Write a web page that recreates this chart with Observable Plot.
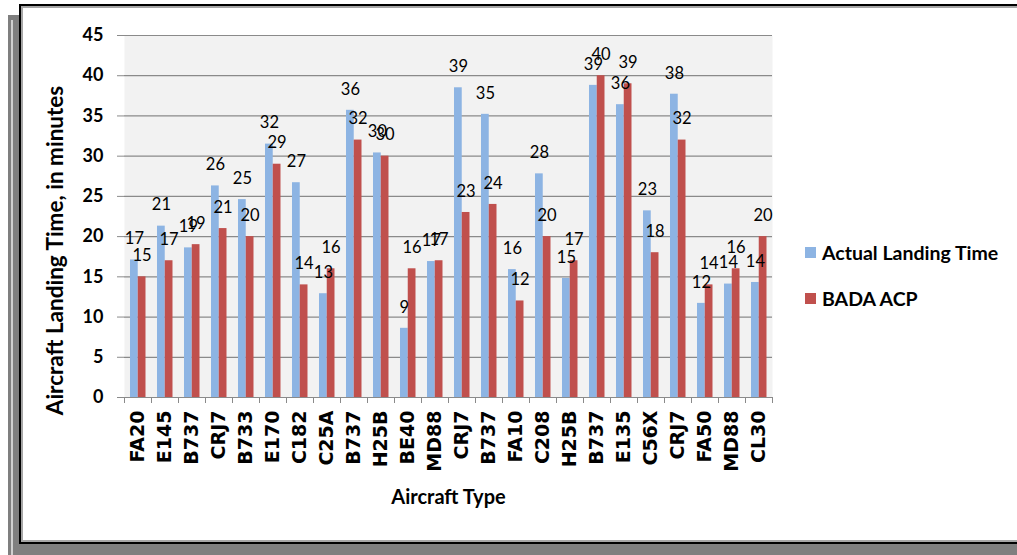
<!DOCTYPE html>
<html>
<head>
<meta charset="utf-8">
<script src="https://cdn.jsdelivr.net/npm/d3@7"></script>
<script src="https://cdn.jsdelivr.net/npm/@observablehq/plot@0.6"></script>
<style>
  html, body { margin: 0; padding: 0; background: #ffffff; width: 1017px; height: 555px; overflow: hidden; }
  #shadow { position: absolute; left: 8px; top: 15px; width: 1020px; height: 545px; background: #7f7f7f; }
  #hilite { position: absolute; left: 11px; top: 20px; width: 2px; height: 540px; background: #d0d0d0; }
  #box { position: absolute; left: 19px; top: 4px; width: 1010px; height: 536px; border: 2px solid #000; background: #fff; box-shadow: inset 0 0 0 2px #a6a6a6; }
  #chart { position: absolute; left: 0; top: 0; }
  #chart svg g[aria-label="x-axis tick label"] { font-family: "DejaVu Sans", sans-serif; font-weight: bold; font-size: 19px; }
  #chart svg g[aria-label="y-axis tick label"] { font-family: Lato, sans-serif; font-weight: bold; font-size: 18px; }
  .legend { position: absolute; left: 805px; font-family: Lato, sans-serif; font-weight: bold; font-size: 19.5px; color: #000; display: flex; align-items: center; }
  .legend span.sw { display: inline-block; width: 11px; height: 11px; margin-right: 6px; }
</style>
</head>
<body>
<div id="shadow"></div>
<div id="hilite"></div>
<div id="box"></div>
<div id="chart"></div>
<div class="legend" style="top:241px"><span class="sw" style="background:#8db4e3"></span>Actual Landing Time</div>
<div class="legend" style="top:287px"><span class="sw" style="background:#c0504d"></span>BADA ACP</div>
<script>
const categories = ["FA20","E145","B737","CRJ7","B733","E170","C182","C25A","B737","H25B","BE40","MD88","CRJ7","B737","FA10","C208","H25B","B737","E135","C56X","CRJ7","FA50","MD88","CL30"];
const actualLanding = [17.1,21.3,18.6,26.3,24.6,31.5,26.7,12.9,35.7,30.4,8.6,16.9,38.5,35.2,15.9,27.8,14.8,38.8,36.4,23.2,37.7,11.7,14.1,14.3];
const badaACP = [15,17,19,21,20,29,14,16,32,30,16,17,23,24,12,20,17,40,39,18,32,14,16,20];
const yTicks = [0,5,10,15,20,25,30,35,40,45];
const seriesNames = ["Actual Landing Time", "BADA ACP"];
const colors = ["#8db4e3", "#c0504d"];

const data = categories.map((c, i) => ({i, cat: c, actual: actualLanding[i], bada: badaACP[i]}));
const idx = data.map(d => d.i);

const W = 1017, H = 555, mL = 124, mR = 245, mT = 35, mB = 158;
const band = (W - mL - mR) / categories.length;
const barW = band * 0.287;
const leftGap = band * 0.222;

const chart = Plot.plot({
  width: W, height: H,
  marginLeft: mL, marginRight: mR, marginTop: mT, marginBottom: mB,
  style: {background: "transparent", fontFamily: "Lato, sans-serif", fontSize: "16px", overflow: "visible"},
  x: {type: "band", domain: idx, padding: 0, label: null},
  y: {domain: [0, 45], label: null},
  marks: [
    Plot.frame({fill: "#f2f2f2", stroke: null}),
    Plot.gridY(yTicks, {stroke: "#8a8a8a", strokeOpacity: 1, strokeWidth: 1.2}),
    Plot.barY(data, {x: "i", y: "actual", fill: colors[0], insetLeft: leftGap, insetRight: band - leftGap - barW}),
    Plot.barY(data, {x: "i", y: "bada", fill: colors[1], insetLeft: leftGap + barW, insetRight: band - leftGap - 2 * barW}),
    Plot.text(data, {x: "i", y: "actual", text: d => d3.format(".0f")(d.actual), dx: leftGap + barW / 2 - band / 2, dy: -21, fontSize: 16.5, fill: "#000"}),
    Plot.text(data, {x: "i", y: "bada", text: d => d3.format(".0f")(d.bada), dx: leftGap + 1.5 * barW - band / 2, dy: -21, fontSize: 16.5, fill: "#000"}),
    Plot.ruleY([0], {stroke: "#8a8a8a", strokeWidth: 1.2}),
    Plot.ruleX(idx, {x: d => d, y1: 0, y2: 0, insetBottom: -6, dx: -band / 2, stroke: "#8a8a8a"}),
    Plot.ruleX([idx[idx.length - 1]], {x: d => d, y1: 0, y2: 0, insetBottom: -6, dx: band / 2, stroke: "#8a8a8a"}),
    Plot.axisY({ticks: yTicks, tickSize: 7, tickPadding: 14, stroke: "#8a8a8a", line: true, label: null}),
    Plot.axisX({tickFormat: i => categories[i], tickRotate: -90, tickSize: 0, tickPadding: 13, label: null}),
    Plot.text(["Aircraft Type"], {frameAnchor: "bottom", dy: 106, fontWeight: "bold", fontSize: 20}),
    Plot.text(["Aircraft Landing Time, in minutes"], {frameAnchor: "left", textAnchor: "middle", dx: -69, dy: 34, rotate: -90, fontWeight: "bold", fontSize: 22.5})
  ]
});
document.getElementById("chart").appendChild(chart);
</script>
</body>
</html>
